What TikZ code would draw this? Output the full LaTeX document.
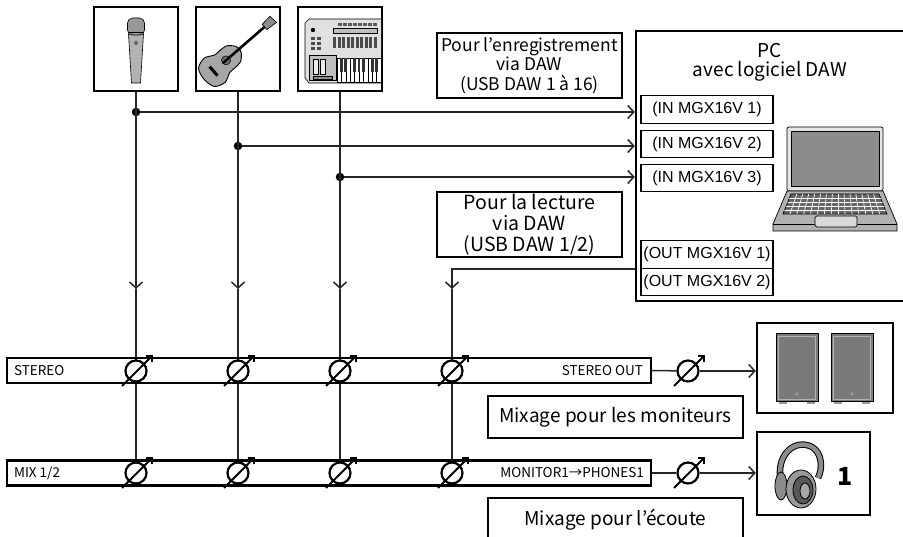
\documentclass[tikz,border=0pt]{standalone}
\usepackage{fontspec}
\setmainfont{Noto Sans CJK JP}
\newfontfamily\arialfont{Liberation Sans}
\usetikzlibrary{arrows.meta}
\usetikzlibrary{backgrounds}
\tikzstyle{device} = [draw, line width=2.4pt, minimum size=84pt, inner sep=0pt]
\tikzstyle{note} = [draw, line width=1.3pt, align=center, inner sep=0pt]
\tikzstyle{port} = [draw, line width=1.3pt, minimum width=132pt, minimum height=27.5pt, inner sep=0pt, font=\arialfont\fontsize{16}{18}\selectfont]
\tikzstyle{bus} = [draw, line width=2.3pt, minimum width=644pt, minimum height=25pt, inner sep=0pt]
\tikzstyle{buslabel} = [inner sep=0pt, font=\fontsize{13.5}{16}\selectfont]
\tikzstyle{fader} = [draw, circle, line width=2.2pt, fill=white, minimum size=21pt, inner sep=0pt]
\tikzstyle{dot} = [fill, circle, minimum size=8.5pt, inner sep=0pt]
\tikzstyle{wire} = [line width=1.5pt, black!85]
\tikzstyle{arrow} = [-{Straight Barb[length=6pt, width=13pt]}]
\tikzstyle{knob} = [-{Straight Barb[angle=90:5.7pt]}, line width=2pt]

\newcommand{\fader}[3]{%
  \node[fader] (#1) at (#2,#3) {};
  \draw[knob, shift={(#2,#3)}] (-14,15) -- (17,-16);
}

\begin{document}
\begin{tikzpicture}[x=1pt, y=-1pt]
	\useasboundingbox (0,0) rectangle (903,537);
	\clip (0,0) rectangle (903,537);

	% sources
	\node[device](mic) at (136,49){};
	\node[device](guitar) at (238,49){};
	\node[device](synth) at (340,49){};

	\begin{scope}[shift={(136,49)}, line width=0.6pt]
		\draw[fill=black!30] (-7.5,-15) -- (7.5,-15) -- (4.5,34) -- (-4.5,34) -- cycle;
		\draw[fill=black!40, rounded corners=5pt] (-8.5,-14) -- (-8.5,-31) -- (8.5,-31) -- (8.5,-14) -- cycle;
		\draw (-8,-17) -- (8,-17);
		\draw[fill=black!15] (0,-6) circle (1.5pt);
	\end{scope}

	\begin{scope}[shift={(223,63)}, rotate=41, line width=0.6pt]
		\draw[fill=black!35, line width=0.9pt] plot[smooth cycle] coordinates {(-25,0) (-22,12) (-11,16) (-1,11.5) (6,11.5) (14,10.5) (20,5) (21.5,0) (20,-5) (14,-10.5) (6,-11.5) (-1,-11.5) (-11,-16) (-22,-12)};
		\draw[fill=black!55] (4,0) circle (4.5pt);
		\draw[line width=2.6pt] (0,0) -- (56,0);
		\draw[fill=black!45] (55,-3.5) -- (66,-4.5) -- (67,4.5) -- (55,3.5) -- cycle;
		\fill (-14,-6) rectangle (-11,6);
	\end{scope}

	\begin{scope}[line width=0.6pt]
		\draw[fill=black!12] (381,19) -- (309,19) -- (305,23) -- (305,78) -- (309,83) -- (381,83);
		\foreach \i in {0,...,7}
			\fill[black!65] (338+\i*5,23) rectangle +(3.5,3);
		\draw[fill=black!25] (333,28.5) rectangle (377,33.5);
		\fill (313,30) circle (2.2pt);
		\foreach \i in {0,...,9}
			\fill[black!70] (333+\i*4.5,37) rectangle +(3,11);
		\foreach \i in {0,1}
			\foreach \j in {0,1,2}
				\fill[black!70] (311+\i*6,37+\j*5) rectangle +(4,3);
		\draw[fill=black!25] (309,55) rectangle (336,80);
		\draw[fill=black!8] (313,59) rectangle (318,74);
		\draw[fill=black!8] (320,59) rectangle (325,74);
		\draw[fill=black!45] (313,76) rectangle (332,79);
		\draw[fill=white] (337,58) rectangle (381,82);
		\foreach \i in {1,...,9}
			\draw[line width=0.4pt] (337+\i*4.4,58) -- +(0,24);
		\foreach \i in {1,2,4,5,6,8,9}
			\fill[black!80] (337+\i*4.4-1.4,58) rectangle +(2.8,14);
	\end{scope}

	% computer
	\node[draw, line width=2.4pt, minimum width=280pt, minimum height=270pt, inner sep=0pt](pc) at (776,166){};
	\node[align=center, font=\fontsize{19}{19}\selectfont](pctitle) at (770,62){PC\\avec logiciel DAW};
	\node[port](in1) at (707,109.5){(IN MGX16V 1)};
	\node[port](in2) at (707,144){(IN MGX16V 2)};
	\node[port](in3) at (707,178){(IN MGX16V 3)};
	\node[port](out1) at (707,254.5){(OUT MGX16V 1)};
	\node[port](out2) at (707,282){(OUT MGX16V 2)};

	\begin{scope}[line width=0.7pt]
		\draw[fill=black!10, rounded corners=2pt] (787,127) rectangle (883,191);
		\draw[fill=black!45] (791,131) rectangle (879,186);
		\draw[fill=black!30] (787,191) -- (883,191) -- (897,224) -- (897,231) -- (773,231) -- (773,224) -- cycle;
		\draw (773,224) -- (897,224);
		\draw[fill=black!60] (791,194) -- (879,194) -- (887,214) -- (783,214) -- cycle;
		\begin{scope}
			\clip (791,194) -- (879,194) -- (887,214) -- (783,214) -- cycle;
			\foreach \y in {198,202,206,210}
				\draw[white, line width=0.7pt] (780,\y) -- (890,\y);
			\foreach \i in {1,...,14}
				\draw[white, line width=0.7pt] (791+\i*5.9,194) -- (783+\i*6.9,214);
		\end{scope}
		\draw[fill=black!15, rounded corners=1.5pt] (815,216) rectangle (857,227);
	\end{scope}

	\node[note, minimum width=185pt, minimum height=65pt, font=\fontsize{17.5}{19.5}\selectfont](rec) at (529.5,65.5){Pour l’enregistrement\\via DAW\\(USB DAW 1 à 16)};
	\node[note, minimum width=185pt, minimum height=65pt, font=\fontsize{19.5}{21}\selectfont](play) at (529.5,224.5){Pour la lecture\\via DAW\\(USB DAW 1/2)};

	% buses
	\node[bus](stereo) at (329,370.5){};
	\node[buslabel, anchor=west](stlabel) at ([xshift=8pt]stereo.west){STEREO};
	\node[buslabel, anchor=east](stout) at ([xshift=-9pt]stereo.east){STEREO OUT};
	\node[bus](mix) at (329,473){};
	\node[buslabel, anchor=west](mixlabel) at ([xshift=8pt]mix.west){MIX 1/2};
	\node[buslabel, anchor=east](monout) at ([xshift=-8pt]mix.east){MONITOR1→PHONES1};

	\foreach \n/\x in {1/136, 2/238, 3/340, 4/452}{
		\fader{st\n}{\x}{371}
		\fader{mx\n}{\x}{473}
	}
	\fader{stm}{688}{371}
	\fader{mxm}{688}{473}

	% outputs
	\node[device, minimum width=136pt, minimum height=90pt](spk) at (825,368){};
	\foreach \x in {776,831}{
		\draw[fill=black!52, line width=1pt] (\x,334) rectangle (\x+42,402);
		\draw[black!30, line width=0.6pt] (\x+2.5,336.5) rectangle (\x+39.5,399.5);
		\draw[black!25] (\x+21,394) circle (1.3pt);
		\fill[black!40] (\x+3,402) rectangle (\x+11,404.5);
		\fill[black!40] (\x+31,402) rectangle (\x+39,404.5);
	}
	\node[device, minimum width=113pt, minimum height=83pt](phones) at (813.5,473.5){};
	\begin{scope}[line width=0.8pt]
		\draw[line width=6.5pt] (781,482) .. controls (775,455) and (795,438) .. (812,447) .. controls (822,453) and (823,468) .. (818,478);
		\draw[line width=4.5pt, black!45] (781,482) .. controls (775,455) and (795,438) .. (812,447) .. controls (822,453) and (823,468) .. (818,478);
		\draw[fill=black!45] (781,486) ellipse (6pt and 14pt);
		\draw[fill=black!40] (801,489) ellipse (15pt and 19pt);
		\draw[fill=black!65] (803,490) ellipse (10pt and 14pt);
		\draw[fill=black!35] (805,491) ellipse (5pt and 8pt);
	\end{scope}
	\node[font=\bfseries\fontsize{25}{25}\selectfont](num) at (845,476){1};

	\node[note, minimum width=255pt, minimum height=42pt, font=\fontsize{19}{19}\selectfont](mixmon) at (615.5,417){Mixage pour les moniteurs};
	\node[note, minimum width=255pt, minimum height=44pt, font=\fontsize{19}{19}\selectfont](mixhp) at (615.5,520){Mixage pour l’écoute};

	% signal lines
	\begin{scope}[on background layer]
		\node[dot](j1) at (136,112){};
		\node[dot](j2) at (238,146){};
		\node[dot](j3) at (340,177){};
		\coordinate(a1) at (136,289);
		\coordinate(a2) at (238,289);
		\coordinate(a3) at (340,289);
		\coordinate(a4) at (452,289);
		\draw[wire, arrow](mic.south) -- (a1);
		\draw[wire, arrow](guitar.south) -- (a2);
		\draw[wire, arrow](synth.south) -- (a3);
		\draw[wire](a1) -- (mx1);
		\draw[wire](a2) -- (mx2);
		\draw[wire](a3) -- (mx3);
		\draw[wire, arrow](j1) -- (j1 -| pc.west);
		\draw[wire, arrow](j2) -- (j2 -| pc.west);
		\draw[wire, arrow](j3) -- (j3 -| pc.west);
		\draw[wire, arrow](out1.south -| pc.west) -| (a4);
		\draw[wire](a4) -- (mx4);
		\draw[wire](stereo.east) -- (stm);
		\draw[wire, arrow](stm) -- (stm -| spk.west);
		\draw[wire](mix.east) -- (mxm);
		\draw[wire, arrow](mxm) -- (mxm -| phones.west);
	\end{scope}
\end{tikzpicture}
\end{document}
